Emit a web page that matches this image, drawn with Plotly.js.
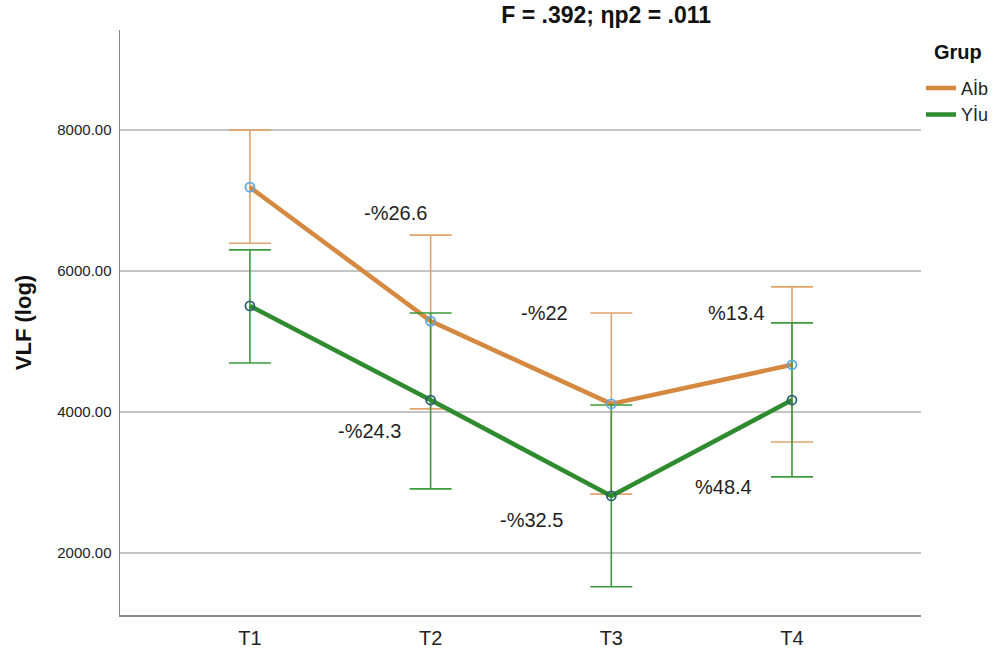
<!DOCTYPE html>
<html>
<head>
<meta charset="utf-8">
<script src="https://cdn.plot.ly/plotly-3.0.1.min.js"></script>
<style>html,body{margin:0;padding:0;background:#fff;}#chart{width:997px;height:656px;}</style>
</head>
<body>
<div id="chart"></div>
<script>
const categories = ["T1", "T2", "T3", "T4"];
const albMean = [7190, 5290, 4115, 4670];
const albUpper = [8000, 6510, 5405, 5775];
const albLower = [6395, 4045, 2835, 3575];
const yiluMean = [5505, 4170, 2810, 4170];
const yiluUpper = [6300, 5405, 4100, 5265];
const yiluLower = [4695, 2910, 1520, 3080];
const pctLabels = ["-%26.6", "-%24.3", "-%22", "-%32.5", "%13.4", "%48.4"];
const pctX = [1, 1, 2, 2, 3, 3];
const pctY = [6830, 3725, 5400, 2475, 5400, 2940];

const plus = (u, m) => u.map((v, i) => v - m[i]);
const minus = (l, m) => m.map((v, i) => v - l[i]);

const orange = "#D5883F";
const green = "#2E8B2E";

const traces = [
  {
    x: categories, y: albMean, name: "Aİb", type: "scatter", mode: "lines",
    line: {color: orange, width: 4.5},
    error_y: {type: "data", symmetric: false, array: plus(albUpper, albMean), arrayminus: minus(albLower, albMean),
      color: "#E0A46C", thickness: 1.6, width: 21}
  },
  {
    x: categories, y: yiluMean, name: "Yİu", type: "scatter", mode: "lines",
    line: {color: green, width: 4.5},
    error_y: {type: "data", symmetric: false, array: plus(yiluUpper, yiluMean), arrayminus: minus(yiluLower, yiluMean),
      color: "#3C9A3C", thickness: 1.6, width: 21}
  },
  {
    x: categories, y: albMean, type: "scatter", mode: "markers", showlegend: false, hoverinfo: "skip",
    marker: {symbol: "circle-open", size: 9, color: "#5AA8E6", line: {width: 1.8}}
  },
  {
    x: categories, y: yiluMean, type: "scatter", mode: "markers", showlegend: false, hoverinfo: "skip",
    marker: {symbol: "circle-open", size: 9, color: "#2A6070", line: {width: 1.8}}
  }
];

const xShifts = [-35, -61, -67, -80, -55, -68];
const annotations = pctLabels.map((t, i) => ({
  x: pctX[i], y: pctY[i], xref: "x", yref: "y", text: t, showarrow: false,
  xshift: xShifts[i],
  font: {family: "Arial, Liberation Sans, sans-serif", size: 20, color: "#222"}
}));
annotations.push({
  xref: "paper", yref: "paper", x: 1.046, y: 0.962, xanchor: "center", yanchor: "middle",
  text: "<b>Grup</b>", showarrow: false,
  font: {family: "Arial, Liberation Sans, sans-serif", size: 20, color: "#111"}
});

const layout = {
  width: 997, height: 656,
  margin: {l: 120, r: 76, t: 30, b: 41, autoexpand: false},
  paper_bgcolor: "#fff", plot_bgcolor: "#fff",
  font: {family: "Arial, Liberation Sans, sans-serif", color: "#222"},
  title: {text: "<b>F = .392; ηp2 = .011</b>", x: 0.608, xanchor: "center", y: 0.977, yanchor: "middle",
    font: {size: 23, color: "#111"}},
  xaxis: {
    type: "category", range: [-0.719, 3.714], showgrid: false, zeroline: false,
    showline: true, linecolor: "#888", linewidth: 1.5, ticks: "",
    tickfont: {size: 20, color: "#222"}, ticklabelstandoff: 4
  },
  yaxis: {
    range: [1120, 9420], tickvals: [2000, 4000, 6000, 8000], ticktext: ["2000.00", "4000.00", "6000.00", "8000.00"],
    showgrid: true, gridcolor: "#C4C4C4", gridwidth: 1.5, zeroline: false,
    showline: true, linecolor: "#888", linewidth: 1.5, ticks: "",
    tickfont: {size: 15, color: "#222"}, ticklabelstandoff: 4,
    title: {text: "<b>VLF (log)</b>", font: {size: 22, color: "#111"}, standoff: 19}
  },
  legend: {
    x: 1.0, y: 0.932, xanchor: "left", yanchor: "top",
    font: {size: 18, color: "#222"}, tracegroupgap: 0, itemwidth: 30
  },
  annotations: annotations,
  showlegend: true
};

Plotly.newPlot("chart", traces, layout, {displayModeBar: false, staticPlot: true});
</script>
</body>
</html>
